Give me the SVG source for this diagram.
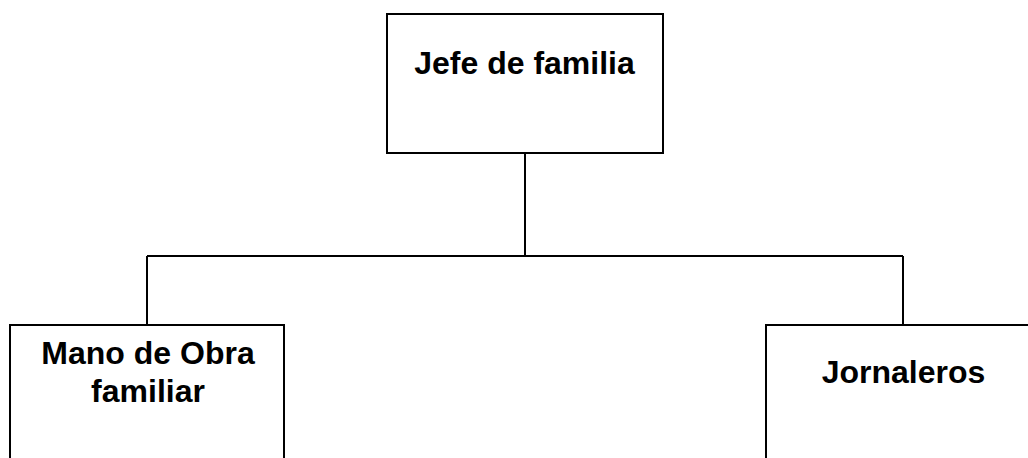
<svg xmlns="http://www.w3.org/2000/svg" width="1028" height="458" viewBox="0 0 1028 458">
<style>
.box{fill:#fff;stroke:#000;stroke-width:2}
.lbl{font-family:"Liberation Sans",Arial,sans-serif;font-weight:bold;font-size:32px;fill:#000;text-anchor:middle}
.conn{fill:none;stroke:#000;stroke-width:2}
</style>
<rect width="1028" height="458" fill="#fff"/>
<g id="connectors">
<path class="conn" d="M525,153 V256"/>
<path class="conn" d="M147,256 H903"/>
<path class="conn" d="M147,256 V325"/>
<path class="conn" d="M903,256 V325"/>
</g>
<g id="node-jefe">
<rect class="box" x="387" y="14" width="276" height="139"/>
<text class="lbl" x="524.5" y="74">Jefe de familia</text>
</g>
<g id="node-mano">
<rect class="box" x="10" y="325" width="274" height="140"/>
<text class="lbl" x="148" y="364">Mano de Obra</text>
<text class="lbl" x="148" y="402">familiar</text>
</g>
<g id="node-jornaleros">
<rect class="box" x="766" y="325" width="270" height="140"/>
<text class="lbl" x="903.5" y="383">Jornaleros</text>
</g>
</svg>
